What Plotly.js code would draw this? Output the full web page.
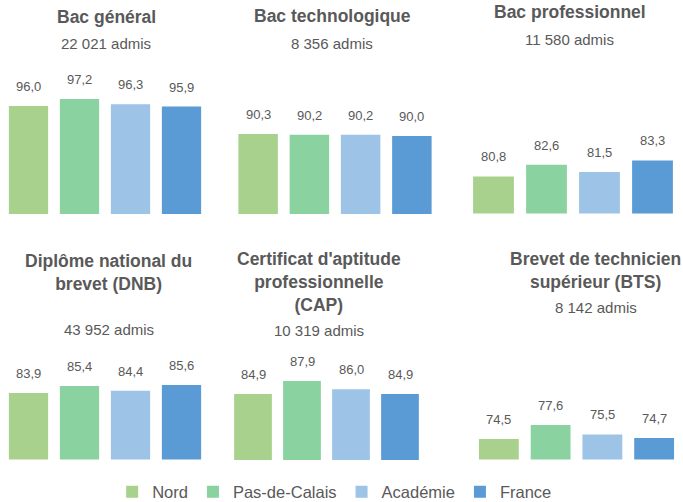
<!DOCTYPE html>
<html><head><meta charset="utf-8">
<script src="https://cdn.plot.ly/plotly-3.0.1.min.js"></script>
<style>html,body{margin:0;padding:0;background:#fff}#chart{width:683px;height:502px}</style>
</head><body><div id="chart"></div>
<script>
// ---- data ----
const regions = ['Nord', 'Pas-de-Calais', 'Académie', 'France'];
const exams = ['Bac général', 'Bac technologique', 'Bac professionnel',
  'Diplôme national du<br>brevet (DNB)', "Certificat d'aptitude<br>professionnelle<br>(CAP)",
  'Brevet de technicien<br>supérieur (BTS)'];
const admis = [22021, 8356, 11580, 43952, 10319, 8142];
const bacGeneral = [96.0, 97.2, 96.3, 95.9];
const bacTechno = [90.3, 90.2, 90.2, 90.0];
const bacPro = [80.8, 82.6, 81.5, 83.3];
const dnb = [83.9, 85.4, 84.4, 85.6];
const cap = [84.9, 87.9, 86.0, 84.9];
const bts = [74.5, 77.6, 75.5, 74.7];
const values = [bacGeneral, bacTechno, bacPro, dnb, cap, bts];

// ---- styling / layout geometry (pixels) ----
const colors = ['#A9D18E', '#8AD3A0', '#9DC3E6', '#5B9BD5'];
const W = 683, H = 502;
const geo = [
  {x0: 3, x1: 207, top: 70, bot: 214, base: 77.47, s: 5.83, tY: 17, sY: 43.5, cx: 106},
  {x0: 232.5, x1: 437.5, top: 70, bot: 214, base: 78.3, s: 6.67, tY: 16.5, sY: 43.5, cx: 332},
  {x0: 467, x1: 679, top: 70, bot: 213.5, base: 75.0, s: 6.4, tY: 12.5, sY: 39, cx: 569.5},
  {x0: 3, x1: 207, top: 345, bot: 459.5, base: 69.8, s: 4.71, tY: 272, sY: 329.5, cx: 108.5},
  {x0: 228.5, x1: 424.5, top: 345, bot: 460, base: 69.66, s: 4.33, tY: 282, sY: 330, cx: 319},
  {x0: 473, x1: 680, top: 345, bot: 459.5, base: 69.96, s: 4.52, tY: 270.5, sY: 307.5, cx: 595.5}
];
const FONT = 'Liberation Sans, Arial, sans-serif';
const GREY = '#595959';

const fmtNum = v => v.toFixed(1).replace('.', ',');
const fmtInt = n => String(n).replace(/\B(?=(\d{3})+(?!\d))/g, ' ');

const traces = [];
const annotations = [];
const layout = {
  width: W, height: H,
  margin: {l: 0, r: 0, t: 0, b: 0, autoexpand: false},
  paper_bgcolor: '#fff', plot_bgcolor: 'rgba(0,0,0,0)',
  barmode: 'overlay', bargap: 0.23,
  font: {family: FONT, color: GREY},
  showlegend: true,
  legend: {orientation: 'h', x: 0.49, xanchor: 'center', y: 1 - 492 / H, yanchor: 'middle',
    font: {size: 16.5, color: GREY, family: FONT}, traceorder: 'normal'},
  annotations: annotations
};

values.forEach((vals, p) => {
  const g = geo[p];
  const n = p === 0 ? '' : String(p + 1);
  layout['xaxis' + n] = {
    domain: [g.x0 / W, g.x1 / W], type: 'category', categoryarray: regions,
    showticklabels: false, showgrid: false, zeroline: false, showline: false, fixedrange: true,
    anchor: 'y' + n
  };
  layout['yaxis' + n] = {
    domain: [1 - g.bot / H, 1 - g.top / H], range: [g.base, g.base + (g.bot - g.top) / g.s],
    showticklabels: false, showgrid: false, zeroline: false, showline: false, fixedrange: true,
    anchor: 'x' + n
  };
  regions.forEach((r, i) => {
    traces.push({
      type: 'bar', x: [r], y: [vals[i]], name: r, legendgroup: r, showlegend: p === 0,
      xaxis: 'x' + n, yaxis: 'y' + n, marker: {color: colors[i]},
      hovertemplate: r + ': %{y:.1f}<extra></extra>'
    });
    annotations.push({
      xref: 'x' + n, yref: 'y' + n, x: r, y: vals[i], text: fmtNum(vals[i]),
      showarrow: false, yanchor: 'bottom', yshift: 10,
      font: {size: 13, color: GREY, family: FONT}
    });
  });
  annotations.push({
    xref: 'paper', yref: 'paper', x: g.cx / W, y: 1 - g.tY / H, xanchor: 'center', yanchor: 'middle',
    text: exams[p], showarrow: false,
    font: {size: 17.5, color: GREY, family: FONT, weight: 700}
  });
  annotations.push({
    xref: 'paper', yref: 'paper', x: g.cx / W, y: 1 - g.sY / H, xanchor: 'center', yanchor: 'middle',
    text: fmtInt(admis[p]) + ' admis', showarrow: false,
    font: {size: 15, color: GREY, family: FONT}
  });
});

Plotly.newPlot('chart', traces, layout, {displayModeBar: false, staticPlot: true});
</script>
</body></html>
